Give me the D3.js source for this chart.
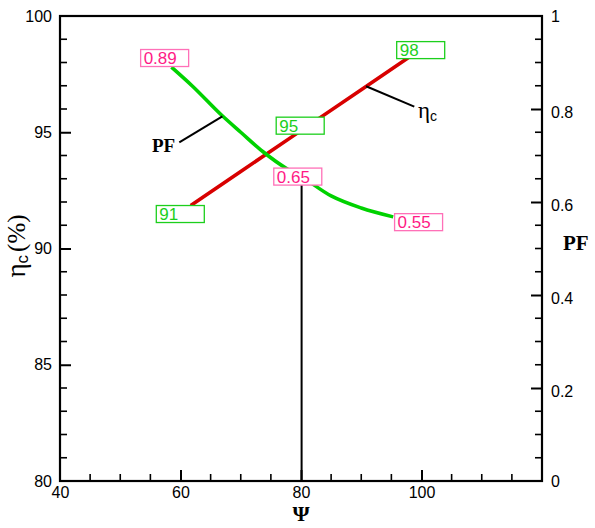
<!DOCTYPE html>
<html><head><meta charset="utf-8">
<script src="https://cdn.jsdelivr.net/npm/d3@7"></script>
<style>
body{margin:0;background:#fff;}
svg{display:block;}
.axis text{font-family:"Liberation Sans",Arial,sans-serif;font-size:16px;fill:#000;}
</style></head>
<body>
<svg id="c" width="595" height="528"></svg>
<script>
// ---- data ----
const psiTicks = [40, 60, 80, 100];
const etaTicks = [80, 85, 90, 95, 100];
const pfTicks = [0, 0.2, 0.4, 0.6, 0.8, 1];
// efficiency curve (η_c, %) vs Ψ
const etaPsi = [61.7, 70, 80, 90, 97.8];
const etaVal = [91.85, 93.31, 95.07, 96.83, 98.2];
// power factor curve vs Ψ
const pfPsi = [58.5, 62, 66.8, 70, 73.7, 77.6, 80, 85, 90, 95.3];
const pfVal = [0.89, 0.849, 0.787, 0.75, 0.708, 0.672, 0.655, 0.613, 0.587, 0.568];
// value labels: text, Ψ and value of the box's top-left corner
const pfLabelText = ["0.89", "0.65", "0.55"];
const pfLabelPsi = [53.3, 75.4, 95.45];
const pfLabelVal = [0.929, 0.674, 0.576];
const etaLabelText = ["91", "95", "98"];
const etaLabelPsi = [55.9, 75.8, 95.8];
const etaLabelVal = [91.87, 95.67, 98.92];

// ---- layout ----
const svg = d3.select("#c");
const x = d3.scaleLinear().domain([40, 120]).range([60, 542]);
const yL = d3.scaleLinear().domain([80, 100]).range([481, 16]);
const yR = d3.scaleLinear().domain([0, 1]).range([481, 16]);

const RED = "#d80000", GREEN = "#00d200", PINK = "#ff1a86", PINKB = "#ff70b8", GTXT = "#1ccf1c";

function styleAxis(g, w) {
  g.select(".domain").remove();
  g.selectAll(".tick line").attr("stroke", "#000").attr("stroke-width", w);
}

// frame
svg.append("rect").attr("x", 60).attr("y", 16).attr("width", 482).attr("height", 465)
  .attr("fill", "none").attr("stroke", "#000").attr("stroke-width", 2.2);

// major ticks
svg.append("g").attr("class", "axis").attr("transform", "translate(0,481)")
  .call(d3.axisBottom(x).tickValues(psiTicks).tickSize(-11).tickPadding(6).tickFormat(d3.format("d")))
  .call(g => styleAxis(g, 2))
  .call(g => g.selectAll(".tick").filter(d => d === 40).select("line").remove());
svg.append("g").attr("class", "axis").attr("transform", "translate(60,0)")
  .call(d3.axisLeft(yL).tickValues(etaTicks).tickSize(-11).tickPadding(8).tickFormat(d3.format("d")))
  .call(g => styleAxis(g, 2))
  .call(g => g.selectAll(".tick").filter(d => d === 80 || d === 100).select("line").remove());
svg.append("g").attr("class", "axis").attr("transform", "translate(542,0)")
  .call(d3.axisRight(yR).tickValues(pfTicks).tickSize(-11).tickPadding(9).tickFormat(d3.format("~g")))
  .call(g => styleAxis(g, 2))
  .call(g => g.selectAll(".tick").filter(d => d === 0 || d === 1).select("line").remove())
  .call(g => g.selectAll(".tick").filter(d => d > 0 && d < 1).select("text").attr("dy", "0.55em"));

// curves
const etaData = etaPsi.map((p, i) => [p, etaVal[i]]);
const pfData = pfPsi.map((p, i) => [p, pfVal[i]]);
svg.append("path").datum(etaData)
  .attr("d", d3.line().x(d => x(d[0])).y(d => yL(d[1])))
  .attr("fill", "none").attr("stroke", RED).attr("stroke-width", 3.6);
svg.append("path").datum(pfData)
  .attr("d", d3.line().x(d => x(d[0])).y(d => yR(d[1])).curve(d3.curveMonotoneX))
  .attr("fill", "none").attr("stroke", GREEN).attr("stroke-width", 3.6);

// leader lines
svg.append("line").attr("x1", x(59.8)).attr("y1", yR(0.728)).attr("x2", x(66.95)).attr("y2", yR(0.784))
  .attr("stroke", "#000").attr("stroke-width", 2);
svg.append("line").attr("x1", x(90.8)).attr("y1", yL(96.98)).attr("x2", x(98.8)).attr("y2", yL(96.1))
  .attr("stroke", "#000").attr("stroke-width", 2);
svg.append("line").attr("x1", x(80.1)).attr("y1", yR(0.6415)).attr("x2", x(80.1)).attr("y2", yR(0))
  .attr("stroke", "#000").attr("stroke-width", 2);

// value label boxes
function box(t, px, py, txtColor, borderColor) {
  const g = svg.append("g").attr("transform", `translate(${px},${py})`);
  g.append("rect").attr("x", 0.5).attr("y", 0.5).attr("width", 48).attr("height", 17)
    .attr("fill", "#fff").attr("stroke", borderColor).attr("stroke-width", 1.3);
  g.append("text").attr("x", 3.5).attr("y", 15).text(t)
    .attr("font-family", "Liberation Sans, Arial, sans-serif").attr("font-size", 17)
    .attr("fill", txtColor);
}
pfLabelText.forEach((t, i) => box(t, x(pfLabelPsi[i]), yR(pfLabelVal[i]), PINK, PINKB));
etaLabelText.forEach((t, i) => box(t, x(etaLabelPsi[i]), yL(etaLabelVal[i]), GTXT, GTXT));

// annotation texts
svg.append("text").attr("x", 152).attr("y", 152).text("PF")
  .attr("font-family", "Liberation Serif, Times New Roman, serif").attr("font-weight", "bold")
  .attr("font-size", 19).attr("fill", "#000");
const et = svg.append("text").attr("x", 418).attr("y", 118)
  .attr("font-family", "Liberation Serif, Times New Roman, serif").attr("fill", "#000");
et.append("tspan").attr("font-size", 23).text("η");
et.append("tspan").attr("font-size", 14).attr("font-family", "Liberation Sans, Arial, sans-serif")
  .attr("dy", 3).text("c");

// axis titles
svg.append("text").attr("x", 301).attr("y", 521).attr("text-anchor", "middle").text("Ψ")
  .attr("font-family", "Liberation Serif, Times New Roman, serif").attr("font-weight", "bold")
  .attr("font-size", 22).attr("fill", "#000");
svg.append("text").attr("x", 563).attr("y", 250).text("PF")
  .attr("font-family", "Liberation Serif, Times New Roman, serif").attr("font-weight", "bold")
  .attr("font-size", 21).attr("fill", "#000");
const yt = svg.append("text").attr("transform", "translate(25,246) rotate(-90)")
  .attr("text-anchor", "middle").attr("fill", "#000")
  .attr("font-family", "Liberation Serif, Times New Roman, serif");
yt.append("tspan").attr("font-size", 27).text("η");
yt.append("tspan").attr("font-size", 17).attr("font-family", "Liberation Sans, Arial, sans-serif")
  .attr("dy", 3).text("c");
yt.append("tspan").attr("font-size", 25).attr("dy", -3).attr("dx", 3).text("(%)");

// minor ticks (inward), drawn last
const xMinor = d3.range(45, 120, 5).filter(v => v % 20 !== 0);
const lMinor = d3.range(81, 100, 1).filter(v => v % 5 !== 0);
const rMinor = d3.range(1, 20).filter(i => i % 4 !== 0).map(i => i * 0.05);
const mg = svg.append("g");
mg.selectAll("line.mx").data(xMinor).enter().append("line").attr("class", "mx")
  .attr("x1", d => x(d)).attr("x2", d => x(d)).attr("y1", 481).attr("y2", 474)
  .attr("stroke", "#000").attr("stroke-width", 1.6);
mg.selectAll("line.ml").data(lMinor).enter().append("line").attr("class", "ml")
  .attr("x1", 60).attr("x2", 67).attr("y1", d => yL(d)).attr("y2", d => yL(d))
  .attr("stroke", "#000").attr("stroke-width", 1.6);
mg.selectAll("line.mr").data(rMinor).enter().append("line").attr("class", "mr")
  .attr("x1", 535).attr("x2", 542).attr("y1", d => yR(d)).attr("y2", d => yR(d))
  .attr("stroke", "#000").attr("stroke-width", 1.6);
</script>
</body></html>
